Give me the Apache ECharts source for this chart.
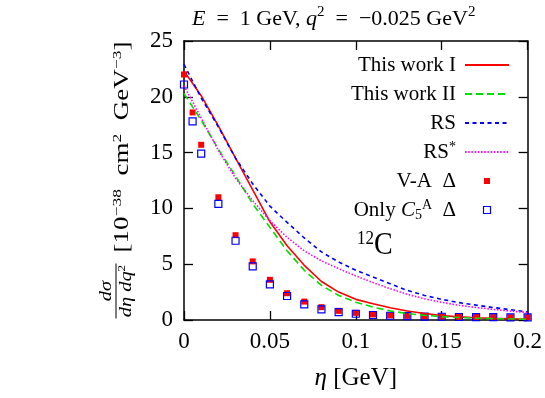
<!DOCTYPE html>
<html lang="en">
<head>
    <meta charset="UTF-8">
    <title>12C cross section</title>
    <style>
        html, body { margin: 0; padding: 0; background: #fff; }
        #main { width: 545px; height: 398px; }
    </style>
    <script src="https://cdn.jsdelivr.net/npm/echarts@6/dist/echarts.min.js"></script>
</head>
<body>
<div id="main"></div>
<script>
    // eta grid of the curves, and of the two sets of points
    var etaLine = [0, 0.01, 0.02, 0.03, 0.04, 0.05, 0.06, 0.07, 0.08, 0.09, 0.1,
        0.11, 0.12, 0.13, 0.14, 0.15, 0.16, 0.17, 0.18, 0.19, 0.2];
    var etaPts = [0, 0.005, 0.01, 0.02, 0.03, 0.04, 0.05, 0.06, 0.07, 0.08, 0.09, 0.1,
        0.11, 0.12, 0.13, 0.14, 0.15, 0.16, 0.17, 0.18, 0.19, 0.2];

    // curves
    var thisWorkI = [22.3, 20.1, 17.4, 14.5, 11.65, 8.8, 6.65, 4.9, 3.45, 2.5, 1.85,
        1.45, 1.1, 0.8, 0.58, 0.4, 0.28, 0.2, 0.15, 0.11, 0.09];
    var thisWorkII = [20.3, 17.9, 15.3, 12.9, 10.4, 8.3, 6.2, 4.45, 3.1, 2.2, 1.6,
        1.15, 0.82, 0.58, 0.42, 0.3, 0.22, 0.16, 0.12, 0.09, 0.07];
    var rs = [22.9, 19.9, 17.3, 14.5, 12.2, 10.2, 8.75, 7.35, 6.1, 5.2, 4.45,
        3.85, 3.25, 2.65, 2.2, 1.85, 1.56, 1.33, 1.12, 0.92, 0.72];
    var rsStar = [21.0, 18.1, 15.2, 12.7, 10.7, 8.9, 7.4, 6.2, 5.3, 4.6, 3.95,
        3.35, 2.8, 2.3, 1.9, 1.58, 1.32, 1.12, 0.95, 0.8, 0.66];

    // points
    var vaDelta = [22.0, 18.6, 15.7, 11.0, 7.6, 5.25, 3.6, 2.4, 1.65, 1.15, 0.82, 0.64,
        0.5, 0.42, 0.37, 0.34, 0.31, 0.29, 0.27, 0.26, 0.25, 0.24];
    var onlyC5A = [21.1, 17.8, 14.9, 10.4, 7.1, 4.8, 3.2, 2.15, 1.4, 0.96, 0.7, 0.56,
        0.45, 0.38, 0.34, 0.31, 0.29, 0.27, 0.26, 0.25, 0.24, 0.23];

    var names = ['This work I', 'This work II', 'RS', 'RS*', 'V-A Δ', 'Only C5A Δ'];
    var labels = {
        'This work I': 'This work I',
        'This work II': 'This work II',
        'RS': 'RS',
        'RS*': 'RS{sup|*}',
        'V-A Δ': 'V-A  Δ',
        'Only C5A Δ': 'Only {i|C}{sub|5}{sup|A}  Δ'
    };

    function pairs(xs, ys) {
        return xs.map(function (x, i) { return [x, ys[i]]; });
    }

    var FONT = 'Liberation Serif';
    function richSet(size, lh) {
        var s = Math.round(size * 0.66);
        return {
            i: { fontFamily: FONT, fontStyle: 'italic', fontSize: size, lineHeight: lh, color: '#000' },
            sup: { fontFamily: FONT, fontSize: s, lineHeight: s, verticalAlign: 'top', color: '#000' },
            sub: { fontFamily: FONT, fontSize: s, lineHeight: s, verticalAlign: 'bottom', color: '#000' }
        };
    }

    var chart = echarts.init(document.getElementById('main'));

    var axisCommon = {
        type: 'value',
        axisLine: { show: true, onZero: false, lineStyle: { color: '#000', width: 1.5 } },
        axisTick: { show: true, inside: true, length: 9, lineStyle: { color: '#000', width: 1.3 } },
        splitLine: { show: false }
    };
    var noSymbol = { color: 'rgba(0,0,0,0)', borderWidth: 0, opacity: 0 };

    var option = {
        animation: false,
        backgroundColor: '#fff',
        title: {
            text: '{i|E}  =  1 GeV, {i|q}{sup|2}  =  −0.025 GeV{sup|2}',
            left: 187,
            top: 0,
            textStyle: { fontFamily: FONT, fontSize: 22, fontWeight: 'normal', color: '#000', lineHeight: 28,
                rich: richSet(22, 28) }
        },
        grid: { left: 184, right: 17, top: 41, bottom: 76 },
        legend: {
            orient: 'vertical',
            align: 'right',
            right: 35,
            top: 53,
            padding: 0,
            itemWidth: 44,
            itemHeight: 14,
            itemGap: 5,
            selectedMode: false,
            data: [
                { name: 'This work I', itemStyle: noSymbol },
                { name: 'This work II', itemStyle: noSymbol },
                { name: 'RS', itemStyle: noSymbol },
                { name: 'RS*', itemStyle: noSymbol },
                { name: 'V-A Δ', icon: 'path://M0,0M14,14M4,4H10V10H4Z' },
                { name: 'Only C5A Δ', icon: 'path://M0,0M14,14M3.5,3.5H10.5V10.5H3.5Z',
                  itemStyle: { color: 'rgba(0,0,0,0)', borderColor: '#0000ff', borderWidth: 1.2 } }
            ],
            formatter: function (n) { return labels[n]; },
            textStyle: { fontFamily: FONT, fontSize: 21, color: '#000', lineHeight: 24,
                padding: [0, 4, 0, 0], rich: richSet(21, 24) }
        },
        xAxis: [
            Object.assign({}, axisCommon, {
                position: 'bottom', min: 0, max: 0.2, interval: 0.05,
                axisLabel: { color: '#000', fontFamily: FONT, fontSize: 23, margin: 10 },
                name: '{i|η} [GeV]',
                nameLocation: 'middle',
                nameGap: 43,
                nameTextStyle: { fontFamily: FONT, fontSize: 25, color: '#000', lineHeight: 30, rich: richSet(25, 30) }
            }),
            Object.assign({}, axisCommon, {
                position: 'top', min: 0, max: 0.2, interval: 0.05,
                axisLabel: { show: false }
            })
        ],
        yAxis: [
            Object.assign({}, axisCommon, {
                position: 'left', min: 0, max: 25, interval: 5,
                axisLabel: { color: '#000', fontFamily: FONT, fontSize: 23, margin: 11 }
            }),
            Object.assign({}, axisCommon, {
                position: 'right', min: 0, max: 25, interval: 5,
                axisLabel: { show: false }
            })
        ],
        graphic: [
            {
                type: 'text', x: 123, y: 147, rotation: Math.PI / 2, scaleX: 1.35,
                style: {
                    text: '[10{sup|−38}  cm{sup|2}  GeV{sup|−3}]',
                    fontFamily: FONT, fontSize: 20, lineHeight: 24, fill: '#000',
                    align: 'center', verticalAlign: 'middle', rich: richSet(20, 24)
                }
            },
            {
                type: 'group', x: 116, y: 291, rotation: Math.PI / 2, scaleX: 1.2,
                children: [
                    { type: 'line', shape: { x1: -23, y1: 0, x2: 23, y2: 0 }, style: { stroke: '#000', lineWidth: 1 } },
                    { type: 'text', x: 0, y: -9, style: { text: '{i|dσ}', align: 'center', verticalAlign: 'middle',
                        fontFamily: FONT, fontSize: 17, fill: '#000',
                        rich: { i: { fontFamily: FONT, fontStyle: 'italic', fontSize: 17, color: '#000' } } } },
                    { type: 'text', x: 0, y: 11, style: { text: '{i|dη dq}{s|2}', align: 'center', verticalAlign: 'middle',
                        fontFamily: FONT, fontSize: 17, fill: '#000',
                        rich: { i: { fontFamily: FONT, fontStyle: 'italic', fontSize: 17, lineHeight: 20, color: '#000' },
                                s: { fontFamily: FONT, fontSize: 11, lineHeight: 11, verticalAlign: 'top', color: '#000' } } } }
                ]
            },
            {
                type: 'text', x: 357, y: 246, scaleY: 1.1,
                style: {
                    text: '{s|12}{c|C}', fontFamily: FONT, fontSize: 28, lineHeight: 30, fill: '#000',
                    align: 'left', verticalAlign: 'middle',
                    rich: {
                        s: { fontFamily: FONT, fontSize: 17, lineHeight: 17, verticalAlign: 'top', color: '#000' },
                        c: { fontFamily: FONT, fontSize: 28, lineHeight: 30, color: '#000' }
                    }
                }
            }
        ],
        series: [
            { name: names[0], type: 'line', data: pairs(etaLine, thisWorkI), symbol: 'none',
              lineStyle: { color: '#ff0000', width: 1.6 }, itemStyle: { color: '#ff0000' } },
            { name: names[1], type: 'line', data: pairs(etaLine, thisWorkII), symbol: 'none',
              lineStyle: { color: '#00e000', width: 1.6, type: [7, 4] }, itemStyle: { color: '#00e000' } },
            { name: names[2], type: 'line', data: pairs(etaLine, rs), symbol: 'none',
              lineStyle: { color: '#0000ff', width: 1.6, type: [4, 3.5] }, itemStyle: { color: '#0000ff' } },
            { name: names[3], type: 'line', data: pairs(etaLine, rsStar), symbol: 'none',
              lineStyle: { color: '#ff00ff', width: 1.6, type: [1.5, 1.7] }, itemStyle: { color: '#ff00ff' } },
            { name: names[4], type: 'scatter', data: pairs(etaPts, vaDelta), symbol: 'rect', symbolSize: 6,
              itemStyle: { color: '#ff0000', opacity: 1 } },
            { name: names[5], type: 'scatter', data: pairs(etaPts, onlyC5A), symbol: 'rect', symbolSize: 7,
              itemStyle: { color: 'rgba(0,0,0,0)', borderColor: '#0000ff', borderWidth: 1.2, opacity: 1 } }
        ]
    };

    chart.setOption(option);
</script>
</body>
</html>
